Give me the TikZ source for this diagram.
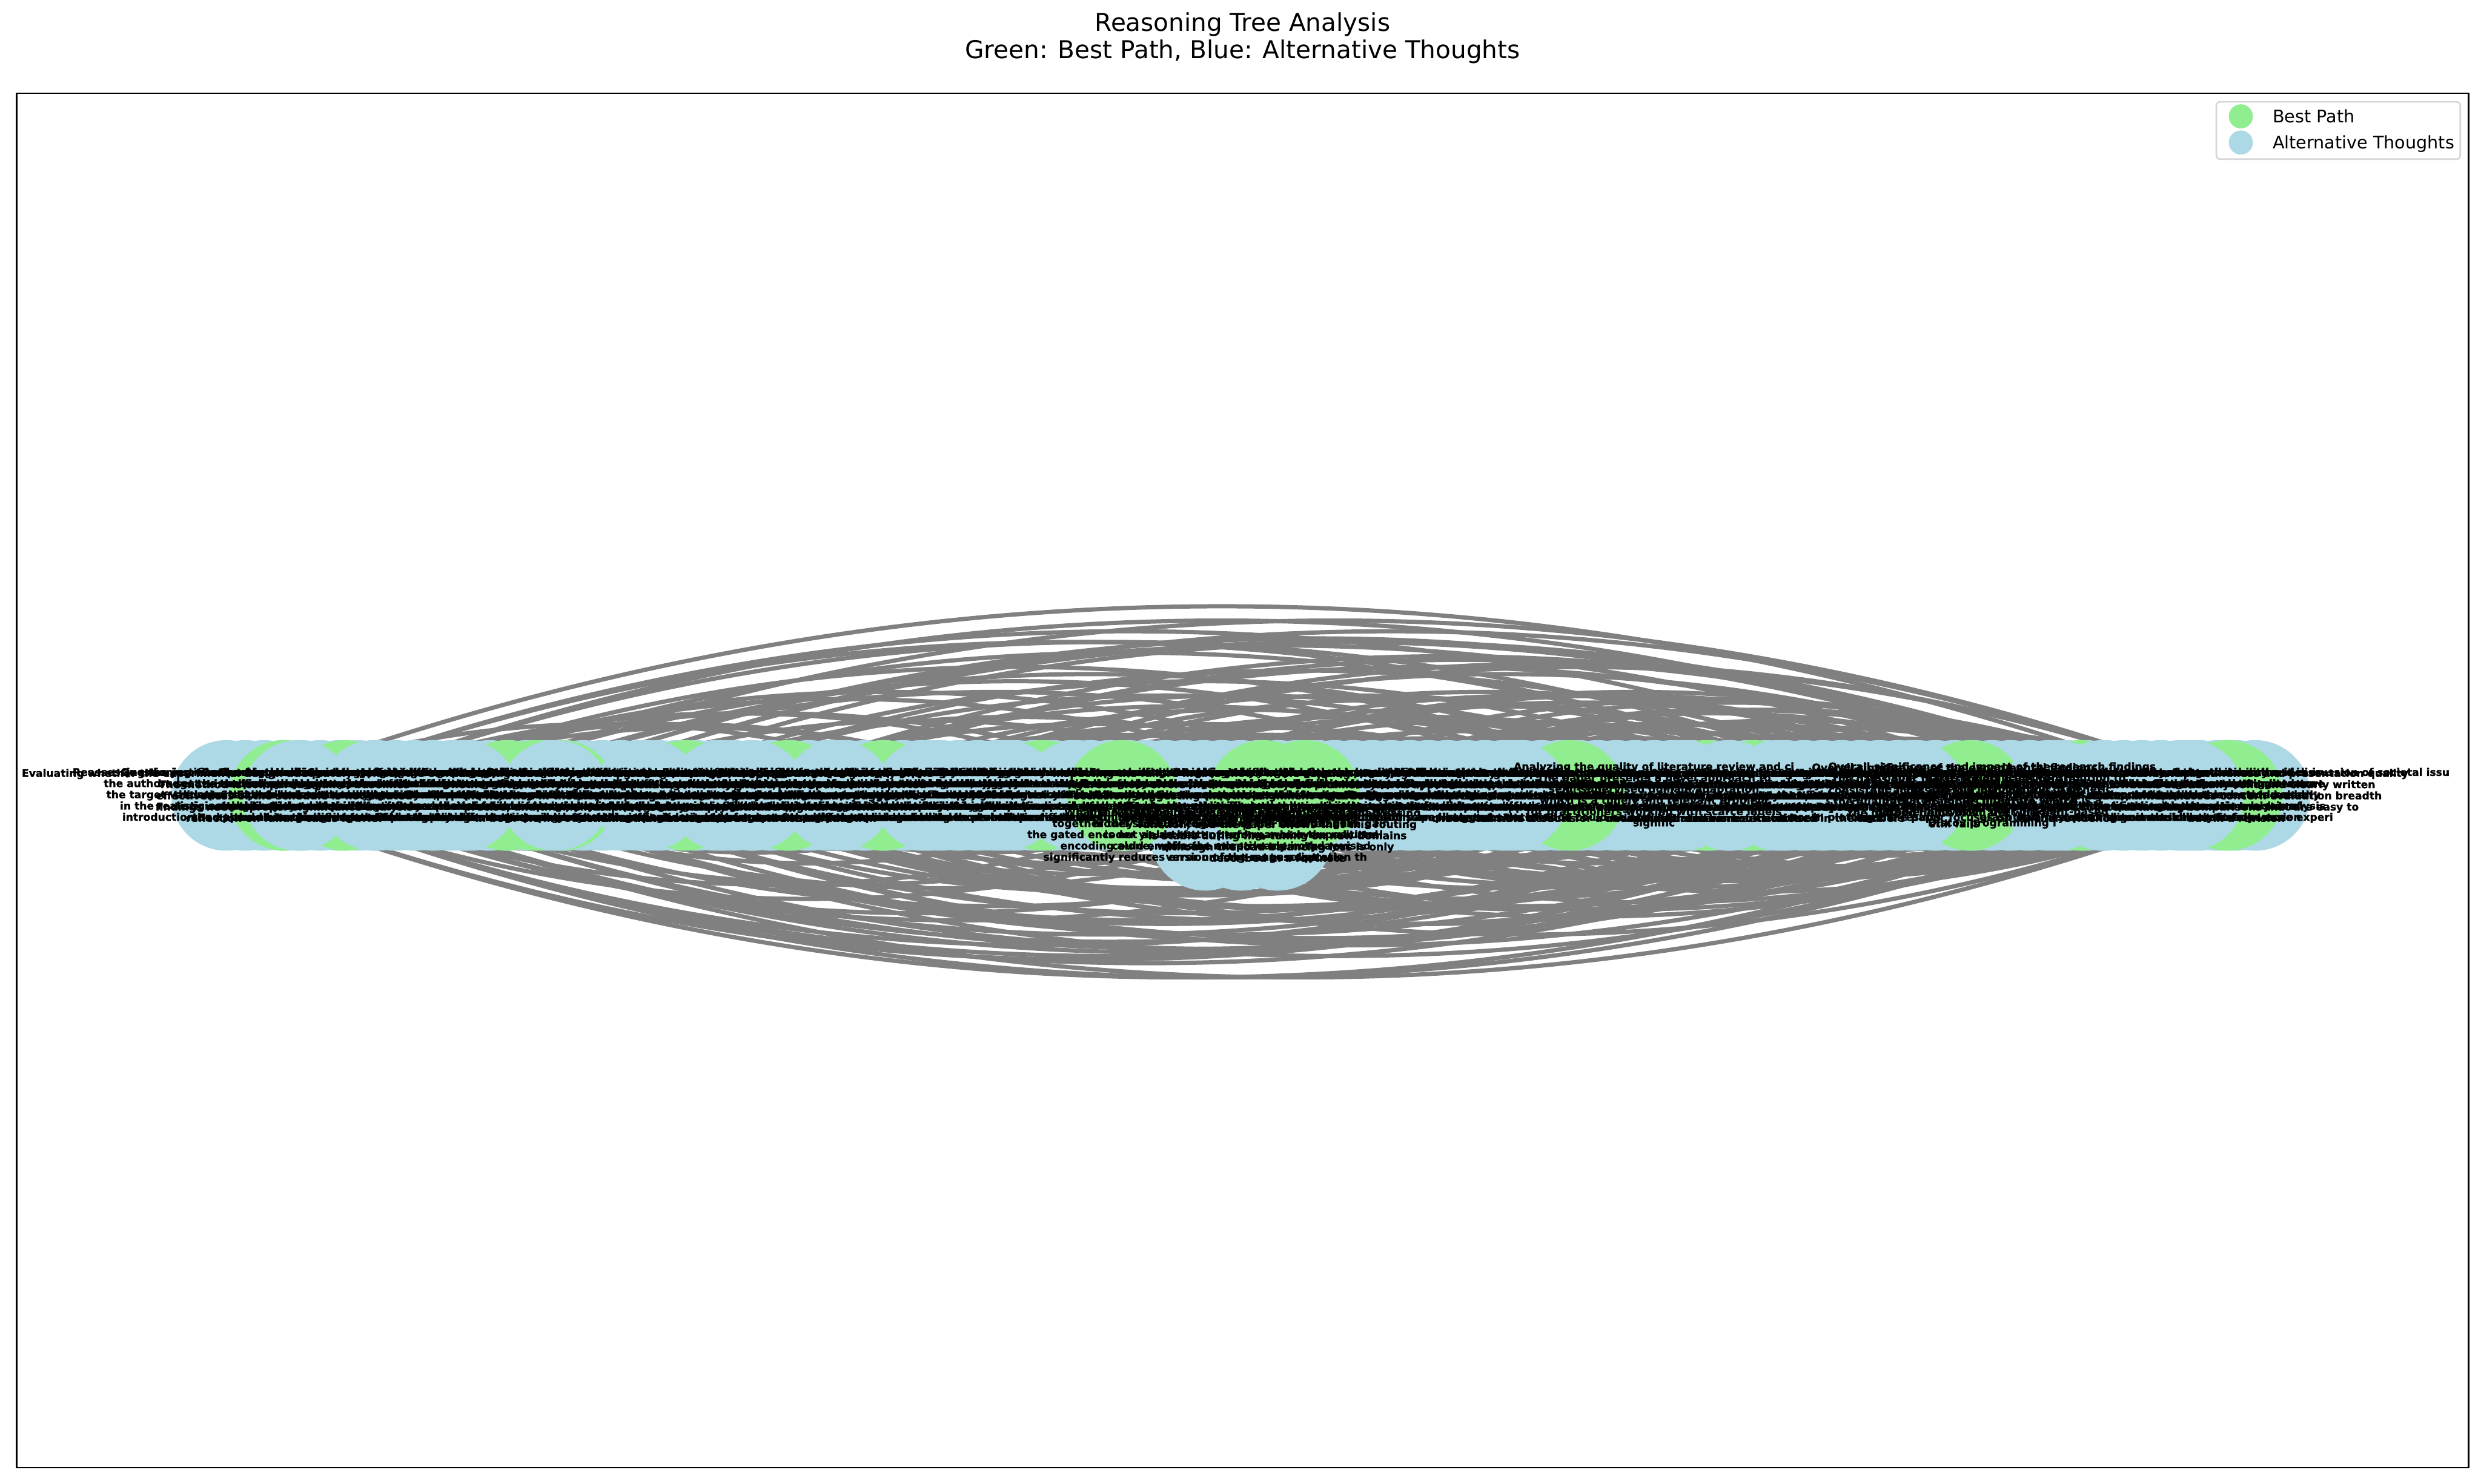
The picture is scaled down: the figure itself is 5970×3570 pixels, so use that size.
\documentclass[tikz,border=0pt]{standalone}
\usepackage{fontspec}
\setmainfont{DejaVu Sans}
\newfontfamily\thoughtfont[FakeBold=1.6]{DejaVu Sans Bold}
\usetikzlibrary{backgrounds}

\definecolor{bestgreen}{HTML}{90EE90}
\definecolor{altblue}{HTML}{ADD8E6}
\definecolor{linkgray}{HTML}{808080}
\definecolor{legframe}{HTML}{D6D6D6}

\tikzset{
	alt/.style={circle, fill=altblue, minimum size=2.66cm, inner sep=0pt},
	best/.style={circle, fill=bestgreen, minimum size=2.66cm, inner sep=0pt},
	link/.style={draw=linkgray, line width=2.9pt},
	thought/.style={align=center, inner sep=0pt, font=\thoughtfont\fontsize{7.1}{7.68}\selectfont},
}

\begin{document}
\begin{tikzpicture}[x=0.01cm, y=-0.01cm]
	\useasboundingbox (0,0) rectangle (5970,3570) ;
	% title
	\node (title)[anchor=base, font=\fontsize{16.8}{19}\selectfont] at (2990, 75) {Reasoning Tree Analysis} ;
	\node (subtitle)[anchor=base, font=\fontsize{16.8}{19}\selectfont] at (2990, 140) {Green: Best Path, Blue: Alternative Thoughts} ;
	\draw[line width=0.94pt] (40,224) rectangle (5940,3532) ;

	% alternative thoughts, the row underneath
	\foreach \i in {1,...,55}
		\node (b\i)[alt] at ({545+90.39*(\i-1)}, 1914) {} ;
	\foreach \i in {1,...,54}
		\node (f\i)[alt] at ({545+90.39*(\i-0.5)}, 1914) {} ;
	\node (d1)[alt] at (2900, 2010) {} ;
	\node (d2)[alt] at (2987, 2010) {} ;
	\node (d3)[alt] at (3074, 2010) {} ;

	% best path
	\foreach \x [count=\i] in {684,830,1220,1290,1350,1650,1896,2125,2508,3777,4105,4220,4740,5006,5360}
		\node (g\i)[best] at (\x, 1914) {} ;

	% alternative thoughts drawn over the path
	\foreach \x [count=\i] in {717,900,1116,1336,1560,1740,1810,2015,2235,2420,2590,3640,4050,4160,4280,4600,4950,5060,5267}
		\node (a\i)[alt] at (\x, 1914) {} ;

	\node (g16)[best] at (2700, 1914) {} ;
	\node (g17)[best] at (3040, 1914) {} ;
	\node (g18)[best] at (3140, 1914) {} ;

	% links
	\begin{scope}[on background layer]
	\foreach \s/\t in {1/54,3/52,2/48,6/55,5/45,8/50,10/53,4/40,12/47,7/36,15/51,9/30,14/42,18/55,11/25,20/49,16/33,22/44,13/21,24/52,19/38,26/46,17/28,28/54,23/35,30/50,25/41,32/45,27/37,34/53,29/43,36/48,31/40,38/51,33/39,40/55,35/47,42/50,37/44,44/52,21/31,39/46,45/54,26/34,41/49}
		\draw[link] (b\s.center) .. controls +({30.13*(\t-\s)},{-11.45*(\t-\s)}) and +({-30.13*(\t-\s)},{-11.45*(\t-\s)}) .. (b\t.center) ;
	\foreach \s/\t in {2/53,1/47,4/55,6/49,3/38,8/44,5/30,10/52,7/26,12/40,9/50,14/33,11/46,16/55,13/29,18/42,15/37,20/51,17/24,22/48,19/32,24/54,21/36,26/43,23/31,28/50,25/39,30/45,27/35,32/53,29/41,34/47,31/38,36/52,33/44,38/49,35/42,40/54,37/45,43/51,39/48,46/55}
		\draw[link] (b\s.center) .. controls +({30.13*(\t-\s)},{11.45*(\t-\s)}) and +({-30.13*(\t-\s)},{11.45*(\t-\s)}) .. (b\t.center) ;
	% more links, spread at random
	\pgfmathsetseed{7}
	\foreach \k in {1,...,240} {
		\pgfmathtruncatemacro{\s}{random(1,46)}
		\pgfmathtruncatemacro{\t}{random(\s+8,55)}
		\pgfmathtruncatemacro{\up}{ifthenelse(mod(\k,2)==0,-1,1)}
		\draw[link] (b\s.center) .. controls +({30.13*(\t-\s)},{\up*11.45*(\t-\s)}) and +({-30.13*(\t-\s)},{\up*11.45*(\t-\s)}) .. (b\t.center) ;
	}
	\end{scope}

	% thought texts
	\node (t1)[thought] at (g1) {Evaluating whether the experimental design adequately isolates the contribution of each\\The method is compared against baselines\\effectiveness of the schedule is not ablated\\findings need a proper significance analysis\\reflection on failure cases is brief} ;
	\node (u1)[thought] at (f1) {Reassessing the justification for the chosen loss weighting\\the authors set the coefficient by grid search on\\the target validation set, which is not available\\in the realistic setting they describe in the\\introduction and should be acknowledged} ;
	\node (t22)[thought] at (b3) {Questioning whether the baselines were tuned with the same\\budget as the proposed method, since several of\\the reported numbers are lower than in the\\original publications and this may inflate\\the apparent margin of improvement} ;
	\node (u2)[thought] at (f4) {Comparing qualitative examples across methods; the\\visualisations suggest cleaner feature clusters, but\\t-SNE plots are notoriously sensitive to perplexity\\and should not be used as primary evidence for\\the claimed alignment of the two domains} ;
	\node (t2)[thought] at (a2) {Checking the consistency of notation across sections\\several symbols are reused with different meanings\\which makes the derivations harder to follow\\than they need to be for readers who are new\\to this line of work on adaptation} ;
	\node (t23)[thought] at (b6) {Looking at the data preprocessing pipeline and\\whether any information from the target domain\\leaks into model selection, which would make\\the comparison with unsupervised baselines\\somewhat unfair in the low-label regime} ;
	\node (u3)[thought] at (f7) {Checking whether the reported standard deviations are\\computed over seeds or over data splits, since the\\two give very different pictures of reliability\\and the text uses the terms interchangeably in\\several places throughout the experiments} ;
	\node (t3)[thought] at (g3) {Judging the novelty of the contribution relative to\\recent work on contrastive pretraining and the\\degree to which the idea is genuinely new rather\\than a recombination of known components applied\\to a slightly different experimental setting} ;
	\node (t24)[thought] at (b9) {Considering the broader motivation of the work and\\whether the target applications actually suffer\\from the distribution shift studied here; a\\concrete real-world case study would make\\the contribution considerably more convincing} ;
	\node (u4)[thought] at (f10) {Considering whether the contribution would transfer to\\regression or structured prediction tasks, which the\\paper mentions as future work without giving any\\indication of the obstacles that might arise\\when moving beyond classification} ;
	\node (t4)[thought] at (b11) {Reviewing the clarity of the problem statement and\\whether the underlying assumptions are made explicit\\the notation in the method section is dense but\\precise, and the main claims are easy to locate\\in both the introduction and the conclusion} ;
	\node (u5)[thought] at (f12) {Examining the related work section for missing references\\several recent papers on test-time adaptation and\\source-free transfer address closely related\\questions and should at least be discussed\\even if a full comparison is out of scope} ;
	\node (t25)[thought] at (b13) {Evaluating the writing quality: the paper is generally\\well organised, but the method section mixes\\intuition with formal statements in a way that\\obscures which parts are essential and which\\are optional design choices} ;
	\node (t5)[thought] at (b14) {Considering the scalability of the approach to larger\\datasets and longer training runs; the reported\\compute budget seems modest, but the memory\\footprint grows linearly with the number of\\domains that are considered at the same time} ;
	\node (u6)[thought] at (f15) {Assessing the statistical power of the user study in the\\appendix; with only twelve participants the reported\\preference for the proposed method is suggestive\\but cannot support the strong conclusions drawn\\in the abstract and the introduction} ;
	\node (t26)[thought] at (b16) {Inspecting the training curves in the appendix\\the proposed loss converges faster than the\\baselines, yet the variance across runs is\\large enough that the ranking of methods\\could change under a different seed} ;
	\node (t6)[thought] at (b17) {Examining the choice of evaluation metrics and whether\\accuracy alone captures the behaviour of interest\\calibration and robustness are only discussed\\briefly in the appendix without quantitative\\support or a comparison to prior baselines} ;
	\node (u7)[thought] at (f18) {Reviewing the computational complexity analysis, which\\counts only the forward pass and ignores the cost\\of maintaining the memory bank, a term that becomes\\dominant for large datasets with many classes\\and long training schedules} ;
	\node (t7)[thought] at (g8) {Weighing the strength of the empirical evidence: the\\improvements are consistent but relatively small\\and confidence intervals are not reported for\\most of the tables in the main text, which limits\\how strongly the conclusions can be stated} ;
	\node (t27)[thought] at (b19) {Reflecting on the assumptions behind the theory\\the bound requires the two domains to share\\label proportions, which rarely holds in\\practice and is violated by at least two\\of the benchmarks used in the experiments} ;
	\node (t8)[thought] at (b21) {Assessing the quality of the figures and tables; most\\plots are readable, although the axis labels are\\missing in Figure 4 and the legend of Table 2\\does not explain the abbreviations used for\\the baseline methods in the comparison} ;
	\node (u8)[thought] at (f21) {Evaluating the choice of backbone architectures; all\\experiments use convolutional networks, leaving open\\whether the findings hold for vision transformers\\which behave differently under distribution shift\\according to several recent studies} ;
	\node (t28)[thought] at (b23) {Tracing how the method handles unseen classes at\\test time; the open-set results are only shown\\for a single dataset and the threshold for\\rejecting samples appears to be chosen on\\the test split itself} ;
	\node (u9)[thought] at (f24) {Considering whether the improvements are driven by the\\data augmentation pipeline rather than the proposed\\objective, since the baselines appear to use weaker\\augmentations and no ablation isolates the effect\\of this difference on the final accuracy} ;
	\node (t9)[thought] at (g16) {Identifying the core idea: a shared latent space learned\\jointly from labelled and unlabelled data with a\\consistency loss that aligns the two domains\\while preserving class structure and avoiding\\representation collapse during training} ;
	\node (u10)[thought] at (f27) {Inspecting the failure modes shown in the supplementary\\figures: most errors involve small objects and heavy\\occlusion, suggesting that the alignment objective\\does not help with the hardest samples, a point\\that deserves an honest discussion} ;
	\node (t10)[thought] at (d1) {What the ablation reveals about each module in\\together they account for most of the reported gain\\the gated encoder yields better performance over positional\\encoding alone, while the adaptive memory layer\\significantly reduces error on long-range adaptation th} ;
	\node (t11)[thought] at (d2) {the results hold across three random seeds and two\\model sizes, strengthening the claim that the gain\\is not an artefact of tuning, which the rebuttal\\could emphasise more clearly in the revised\\version of the manuscript} ;
	\node (t12)[thought] at (d3) {tokens are routed to experts by a learned gating\\function, and the paper shows that this routing\\is stable during fine-tuning on new domains\\although the load balancing loss is only\\described in a footnote} ;
	\node (t13)[thought] at (g17) {Summarising the main contribution of the paper: a method\\for transferring knowledge between related tasks\\with limited supervision, evaluated on image and\\text benchmarks with generally promising results\\and a reasonably thorough set of ablations} ;
	\node (t29)[thought] at (b30) {Relating the contribution to classic results on\\importance weighting and covariate shift, which\\the paper cites but does not compare against\\even though they are cheap to run and often\\surprisingly competitive} ;
	\node (u11)[thought] at (f30) {Weighing whether the paper is a good fit for the venue\\the topic is clearly relevant, the presentation is\\mostly accessible to a general machine learning\\audience, and the empirical scope matches what\\is typically expected for a full paper} ;
	\node (t14)[thought] at (b32) {Verifying the correctness of the theoretical results; the\\main bound follows from standard arguments, but the\\proof of Lemma 2 skips a step that relies on an\\assumption not stated in the main text, which\\should be added for completeness} ;
	\node (u12)[thought] at (f33) {Judging the quality of the mathematical exposition; the\\definitions are precise but the key theorem would be\\easier to appreciate with a short proof sketch in\\the main text and a discussion of when its\\assumptions are likely to be satisfied} ;
	\node (t30)[thought] at (b34) {Noting that the code and pretrained checkpoints are\\promised but not yet released, which makes it hard\\to verify several implementation details that\\are only sketched in the supplementary\\material} ;
	\node (t15)[thought] at (b35) {Probing the sensitivity to hyperparameters: the\\method appears robust to the learning rate but\\degrades when the temperature is set too low\\a plot of this dependence would help readers\\choose sensible defaults} ;
	\node (u13)[thought] at (f36) {Considering the ethical implications of deploying models\\adapted with unlabelled target data, especially in\\medical imaging where silent failures under shift\\could harm patients and where the paper itself\\suggests the method could be applied} ;
	\node (t31)[thought] at (b37) {Scrutinising the ablation on the number of pseudo\\labels: performance peaks at an intermediate\\value and then drops, but the paper offers\\no explanation for this behaviour or guidance\\on how to set it for a new dataset} ;
	\node (t16)[thought] at (b39) {Analyzing the quality of literature review and ci\\The paper presents a novel approach to\\semi-supervised domain adaptation\\which is a timely and relevant problem\\for practitioners working with scarce labels\\signific} ;
	\node (u14)[thought] at (f39) {Evaluating the novelty of the memory module in light of\\prototype-based methods that store class centroids\\and update them with a moving average, which is\\very close to the mechanism described here\\under a different name} ;
	\node (t17)[thought] at (g11) {Comparing the approach with related methods in the\\unsupervised setting, where similar alignment\\objectives have been proposed before; the\\differences should be stated more explicitly\\in the related work section} ;
	\node (t32)[thought] at (b41) {Estimating the practical cost of deployment; the\\extra forward pass at inference roughly doubles\\latency, a trade-off that deserves discussion\\alongside the accuracy improvements shown\\in the main results table} ;
	\node (u15)[thought] at (f42) {Reviewing whether the claims in the abstract match the\\evidence in the experiments; the abstract states\\consistent gains on all benchmarks, while one table\\shows a small drop on the hardest transfer pair\\that is not mentioned in the text} ;
	\node (t33)[thought] at (b43) {Considering the fairness of the comparison with\\prior work that uses a smaller backbone, as the\\gains might partly come from model capacity\\rather than from the proposed objective\\itself} ;
	\node (u16)[thought] at (f44) {Checking the consistency between the figures and the\\numbers in the tables; Figure 3 appears to show a\\larger gap than Table 1 reports, which may be due\\to a different evaluation protocol or simply an\\error in plotting the results} ;
	\node (t34)[thought] at (b45) {Weighing the clarity of the algorithm box, which\\omits the schedule for the weighting coefficient\\and the stopping criterion, both of which\\matter for reproducing the reported\\numbers} ;
	\node (u17)[thought] at (f46) {Examining the sensitivity to the size of the labelled\\subset; the advantage over baselines shrinks quickly\\as more labels become available, which limits the\\practical impact to the very low-label regime\\that the paper focuses on} ;
	\node (t18)[thought] at (b47) {Overall significance of the experimental findings\\the gains over the strongest baseline are\\consistent across all four benchmarks, and\\the qualitative examples illustrate where\\the method helps most and where it\\still fails} ;
	\node (t19)[thought] at (b48) {Overall significance and impact of the research findings\\The paper makes a significant contribution to\\the field, and the introduction of genetic\\operators for architecture search is a\\notable innovation over gradient-based\\Discov programming i} ;
	\node (u18)[thought] at (f49) {Considering the clarity of the contribution list at the\\end of the introduction, which mixes methodological\\novelty with empirical findings and could be split\\to make the main message of the paper easier to\\grasp on a first reading} ;
	\node (t35)[thought] at (b50) {Assessing the robustness claims under corruption\\benchmarks; results are strong for noise and blur\\but weaker for weather effects, which the\\authors attribute to the source data without\\further evidence} ;
	\node (t20)[thought] at (b51) {Assessing the limitations section: the authors\\acknowledge the reliance on labelled source data\\but do not discuss computational cost or\\potential biases in the benchmark datasets\\that may affect the conclusions} ;
	\node (u19)[thought] at (f52) {Assessing the discussion of negative results; it is\\commendable that the authors report settings where\\the method does not help, and this section could\\be expanded into a more systematic analysis of\\when alignment is likely to fail} ;
	\node (t36)[thought] at (b53) {Judging the overall recommendation: the idea is\\sound and well executed, the experiments are\\broad, and most concerns can be addressed\\with clarifications and one or two extra\\experiments in the camera-ready version} ;
	\node (u20)[thought] at (f54) {Overall assessment of soundness and presentation quality\\the work is technically solid and clearly written\\the main weaknesses concern evaluation breadth\\and missing comparisons that are easy to\\add in a revision} ;
	\node (t21)[thought] at (g15) {Considering reproducibility, code availability and discussion of societal issu\\relation to the existing literature\\contributions are stated clearly\\though some claims lack analysis\\and would benefit from more experi} ;

	% legend
	\draw[legframe, fill=white, line width=1.1pt, rounded corners=0.09cm] (5333,245) rectangle (5920,383) ;
	\node (legbest)[best, minimum size=0.58cm] at (5392, 280) {} ;
	\node (legalt)[alt, minimum size=0.58cm] at (5392, 343) {} ;
	\node (legbesttext)[anchor=base west, inner sep=0pt, font=\fontsize{11.86}{14}\selectfont] at (5468, 295) {Best Path} ;
	\node (legalttext)[anchor=base west, inner sep=0pt, font=\fontsize{11.86}{14}\selectfont] at (5468, 358) {Alternative Thoughts} ;
\end{tikzpicture}
\end{document}
